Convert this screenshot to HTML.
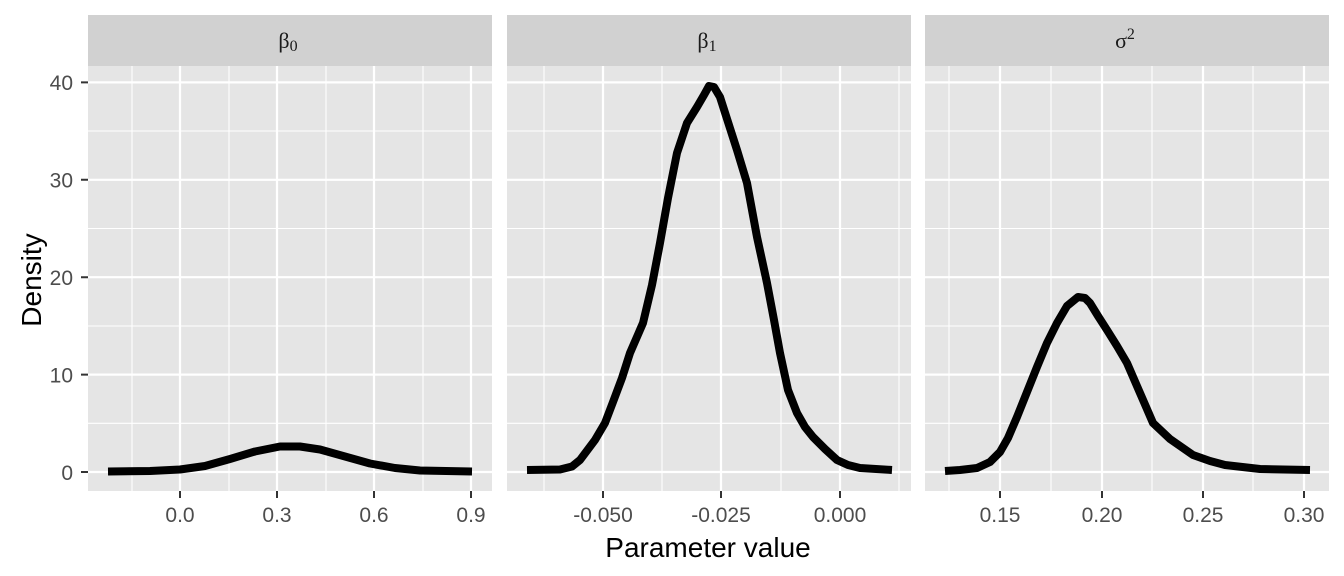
<!DOCTYPE html>
<html><head><meta charset="utf-8"><style>body{margin:0;background:#fff}svg{display:block}</style></head>
<body>
<svg width="1344" height="576" xmlns="http://www.w3.org/2000/svg" font-family="Liberation Sans, sans-serif">
<rect x="88" y="66" width="404" height="425" fill="#e5e5e5"/>
<rect x="507" y="66" width="404" height="425" fill="#e5e5e5"/>
<rect x="925" y="66" width="404" height="425" fill="#e5e5e5"/>
<rect x="88" y="15" width="404" height="51" fill="#d1d1d1"/>
<rect x="507" y="15" width="404" height="51" fill="#d1d1d1"/>
<rect x="925" y="15" width="404" height="51" fill="#d1d1d1"/>
<g font-family="Liberation Serif, serif" font-size="22" fill="#1a1a1a" text-anchor="middle">
<text x="288" y="48">β<tspan font-size="16" dy="3">0</tspan></text>
<text x="707" y="48">β<tspan font-size="16" dy="3">1</tspan></text>
<text x="1125" y="48">σ<tspan font-size="16" dy="-9">2</tspan></text>
</g>
<g stroke="#fff" stroke-width="1.1">
<path d="M88 131H492M88 228.5H492M88 326H492M88 423.3H492M507 131H911M507 228.5H911M507 326H911M507 423.3H911M925 131H1329M925 228.5H1329M925 326H1329M925 423.3H1329"/>
<path d="M132 66V491M229 66V491M326 66V491M423 66V491M544 66V491M662 66V491M781 66V491M899 66V491M949 66V491M1051 66V491M1152 66V491M1253 66V491"/>
</g>
<g stroke="#fff" stroke-width="2.2">
<path d="M88 82.4H492M88 179.8H492M88 277.2H492M88 374.6H492M88 472H492M507 82.4H911M507 179.8H911M507 277.2H911M507 374.6H911M507 472H911M925 82.4H1329M925 179.8H1329M925 277.2H1329M925 374.6H1329M925 472H1329"/>
<path d="M180 66V491M277 66V491M374 66V491M471 66V491M603 66V491M721 66V491M840 66V491M1000 66V491M1102 66V491M1203 66V491M1304 66V491"/>
</g>
<g fill="none" stroke="#000" stroke-width="8" stroke-linejoin="round">
<path d="M108 471.5 L150 471 L180 469.5 L205 466 L230 459 L255 451.5 L280 446.5 L300 446.5 L320 449.5 L345 456.5 L370 463.5 L395 468 L420 470.5 L472 471.5"/>
<path d="M527 470 L560 469.5 L572 466.5 L580 460 L595 440 L605 423 L613 402 L622 378 L630 353 L643 323 L652 285 L660 243 L668 198 L677 153 L687 123 L697 107 L704 95 L709 86 L714 87 L720 97 L728 122 L737 150 L747 183 L757 237 L767 283 L774 320 L780 353 L788 390 L797 413 L805 427 L813 437 L825 449 L837 460 L848 465 L860 468 L892 470"/>
<path d="M945 471 L960 470 L977 468 L990 462 L1000 452 L1008 438 L1017 417 L1027 392 L1037 367 L1047 343 L1057 323 L1067 306 L1078 297 L1085 298 L1090 303 L1098 316 L1107 330 L1117 346 L1127 363 L1140 393 L1153 423 L1170 439 L1193 455 L1210 461 L1225 465 L1260 469 L1310 470"/>
</g>
<g stroke="#333" stroke-width="2">
<path d="M81 82.4H88M81 179.8H88M81 277.2H88M81 374.6H88M81 472H88"/>
<path d="M180 491V498M277 491V498M374 491V498M471 491V498M603 491V498M721 491V498M840 491V498M1000 491V498M1102 491V498M1203 491V498M1304 491V498"/>
</g>
<g font-size="21" fill="#4d4d4d">
<g text-anchor="end">
<text x="73" y="90">40</text><text x="73" y="187.5">30</text><text x="73" y="285">20</text><text x="73" y="382.5">10</text><text x="73" y="480">0</text>
</g>
<g text-anchor="middle">
<text x="180" y="522">0.0</text><text x="277" y="522">0.3</text><text x="374" y="522">0.6</text><text x="471" y="522">0.9</text>
<text x="603" y="522">-0.050</text><text x="721" y="522">-0.025</text><text x="840" y="522">0.000</text>
<text x="1000" y="522">0.15</text><text x="1102" y="522">0.20</text><text x="1203" y="522">0.25</text><text x="1304" y="522">0.30</text>
</g>
</g>
<text x="708" y="557" font-size="28" text-anchor="middle" fill="#000">Parameter value</text>
<text transform="translate(41,280) rotate(-90)" font-size="28" text-anchor="middle" fill="#000">Density</text>
</svg>
</body></html>
